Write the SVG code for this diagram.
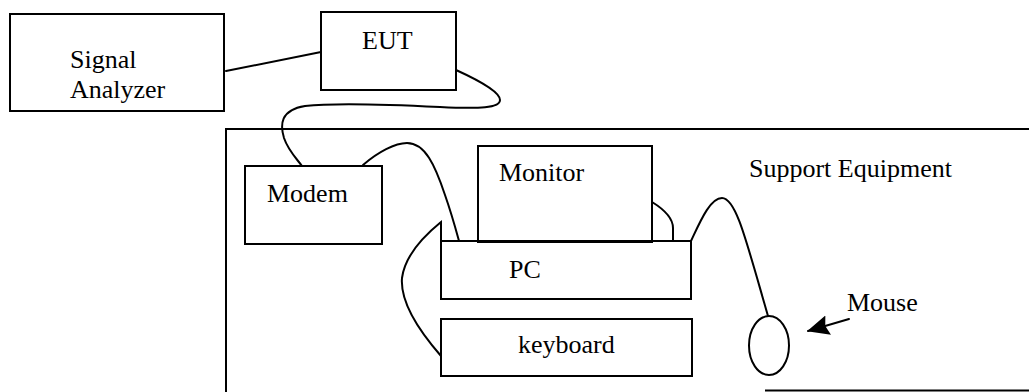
<svg xmlns="http://www.w3.org/2000/svg" width="1029" height="392" viewBox="0 0 1029 392">
  <style>
    .box { fill: none; stroke: #000; stroke-width: 2; }
    .cable { fill: none; stroke: #000; stroke-width: 2; stroke-linecap: round; }
    text { font-family: "Liberation Serif", "Times New Roman", serif; font-size: 26px; fill: #000; }
  </style>
  <defs>
    <marker id="arrowhead" markerUnits="userSpaceOnUse" markerWidth="24" markerHeight="22" refX="21" refY="10" orient="auto">
      <polygon points="0,0 22,10 0,20 3,10" fill="#000"/>
    </marker>
  </defs>
  <rect width="1029" height="392" fill="#fff"/>

  <!-- support equipment enclosure -->
  <g id="support-equipment">
    <path class="box" d="M226,392 V129 H1030"/>
    <path class="box" d="M765,390.5 H1030"/>
    <text x="749" y="177">Support Equipment</text>
  </g>

  <g id="signal-analyzer">
    <rect class="box" x="10" y="14" width="214" height="97"/>
    <text x="70" y="68">Signal</text>
    <text x="70" y="98">Analyzer</text>
  </g>

  <g id="eut">
    <rect class="box" x="321" y="12" width="135" height="78"/>
    <text x="362" y="49" font-size="25">EUT</text>
  </g>

  <g id="modem">
    <rect class="box" x="245" y="166" width="137" height="78"/>
    <text x="267" y="202">Modem</text>
  </g>

  <g id="monitor">
    <rect class="box" x="478" y="146" width="174" height="96"/>
    <text x="499" y="181">Monitor</text>
  </g>

  <g id="pc">
    <rect class="box" x="441" y="241" width="250" height="58"/>
    <text x="509" y="278">PC</text>
  </g>

  <g id="keyboard">
    <rect class="box" x="441" y="319" width="251" height="57"/>
    <text x="518" y="353">keyboard</text>
  </g>

  <g id="mouse">
    <ellipse class="box" cx="769" cy="345.5" rx="20" ry="29.5"/>
    <text x="847" y="311">Mouse</text>
  </g>

  <!-- cables between the units -->
  <g id="connectors">
    <path class="cable" d="M226,71 L321,52"/>
    <path class="cable" d="M456,70 C478,80 500,92 500,100 C500,108 480,109 440,107 C400,105 340,102 305,106 C280,110 280,125 284,138 C288,150 296,158 302,166"/>
    <path class="cable" d="M363,165 C378,152 395,143 407,143 C425,143 435,165 445,195 C452,215 456,230 459,241"/>
    <path class="cable" d="M441,241 L441,222 C425,235 405,255 402,278 C400,302 420,332 441,356"/>
    <path class="cable" d="M652,202 C665,210 673,218 673,228 L673,241"/>
    <path class="cable" d="M691,241 C700,222 710,198 722,198 C736,198 746,240 768,316"/>
    <path class="cable" d="M849,319 L808,331" marker-end="url(#arrowhead)"/>
  </g>
</svg>
